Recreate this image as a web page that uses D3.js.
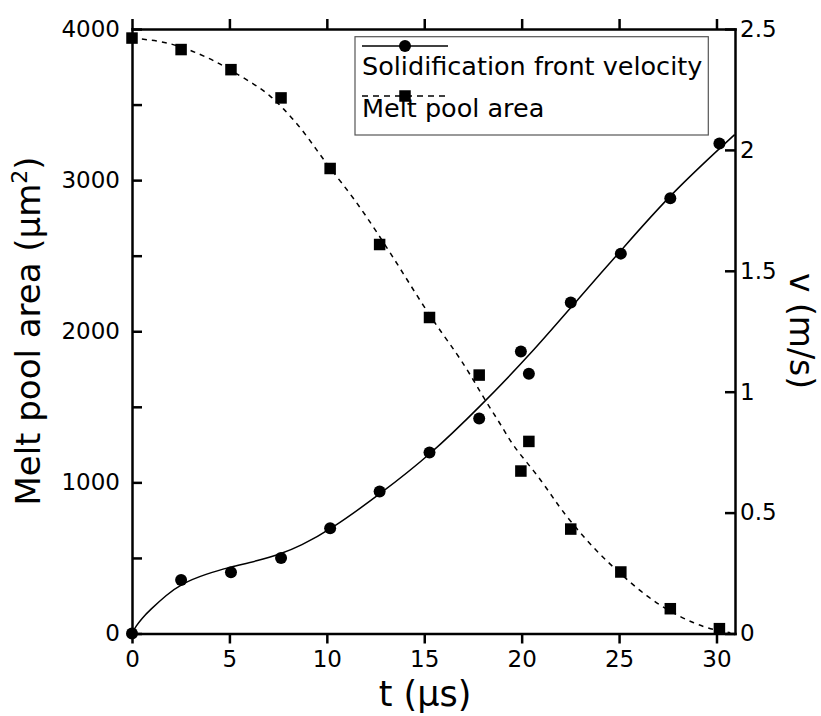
<!DOCTYPE html>
<html>
<head>
<meta charset="utf-8">
<script src="https://cdn.jsdelivr.net/npm/d3@7"></script>
<style>
  html, body { margin: 0; padding: 0; background: #fff; }
  svg { display: block; font-family: "DejaVu Sans", Verdana, sans-serif; }
  .axis path, .axis line { stroke: #000; stroke-width: 2.5; }
  .axis text { font-size: 23px; fill: #000; font-family: "DejaVu Sans", Verdana, sans-serif; }
</style>
</head>
<body>
<div id="chart"></div>
<script>
// measured points (t in µs)
const tempos = [0, 2.52, 5.08, 7.65, 10.17, 12.71, 15.27, 17.82, 19.96, 20.37, 22.52, 25.09, 27.63, 30.15];
const velocidade = [0, 0.221, 0.253, 0.312, 0.435, 0.587, 0.749, 0.889, 1.166, 1.074, 1.369, 1.571, 1.800, 2.026];
const area = [3940, 3864, 3731, 3544, 3077, 2574, 2091, 1710, 1075, 1271, 691, 407, 164, 32];

// fitted curves
const ajusteVelT = [0, 0.2, 0.5, 0.92, 1.78, 2.52, 3.8, 5.08, 6.4, 7.65, 8.63, 10.17, 12.74, 15.31, 17.87, 20.44, 23.01, 25.06, 27.60, 30.93];
const ajusteVel = [0, 0.03, 0.062, 0.097, 0.160, 0.205, 0.247, 0.275, 0.300, 0.329, 0.362, 0.428, 0.577, 0.739, 0.939, 1.153, 1.394, 1.580, 1.815, 2.063];
const ajusteAreaT = [0, 1.44, 2.47, 3.49, 4.35, 5.21, 6.23, 7.09, 7.77, 8.63, 9.49, 10.17, 11.37, 12.57, 13.93, 15.30, 16.68, 17.53, 18.22, 18.90, 19.58, 20.61, 21.47, 21.98, 23.01, 24.04, 25.23, 26.44, 27.63, 28.83, 29.86, 30.71];
const ajusteArea = [3940, 3921, 3886, 3833, 3782, 3716, 3639, 3561, 3474, 3352, 3198, 3077, 2884, 2657, 2382, 2095, 1853, 1677, 1522, 1390, 1235, 1081, 927, 828, 663, 519, 376, 243, 144, 67, 23, 5];

const ticksX = [0, 5, 10, 15, 20, 25, 30];
const ticksArea = d3.range(0, 4001, 500);
const ticksVel = [0, 0.5, 1, 1.5, 2, 2.5];

const largura = 821, altura = 716;
const esq = 132, dir = 735, topo = 29, base = 633.5;

const svg = d3.select('#chart')
    .append('svg')
    .attr('width', largura)
    .attr('height', altura);

const x = d3.scaleLinear().domain([0, 30.95]).range([esq, dir]);
const yA = d3.scaleLinear().domain([0, 4000]).range([base, topo]);
const yV = d3.scaleLinear().domain([0, 2.5]).range([base, topo]);

// eixos
svg.append('g').attr('class', 'axis')
    .attr('transform', `translate(0,${base})`)
    .call(d3.axisBottom(x).tickValues(ticksX).tickSize(10).tickSizeOuter(0).tickPadding(7));
svg.append('g').attr('class', 'axis')
    .attr('transform', `translate(0,${topo})`)
    .call(d3.axisTop(x).tickValues(ticksX).tickSize(10).tickSizeOuter(0).tickFormat(''));
svg.append('g').attr('class', 'axis')
    .attr('transform', `translate(${esq},0)`)
    .call(d3.axisLeft(yA).tickValues(ticksArea).tickSizeInner(-10).tickSizeOuter(0).tickPadding(12)
        .tickFormat(d => d % 1000 === 0 ? d : ''));
svg.append('g').attr('class', 'axis')
    .attr('transform', `translate(${dir},0)`)
    .call(d3.axisRight(yV).tickValues(ticksVel).tickSizeInner(-10).tickSizeOuter(0).tickPadding(5)
        .tickFormat(d => String(d)));
svg.selectAll('.axis .domain').attr('stroke-linecap', 'square');

// curvas ajustadas
const linhaV = d3.line().x(d => x(d[0])).y(d => yV(d[1])).curve(d3.curveBasis);
const linhaA = d3.line().x(d => x(d[0])).y(d => yA(d[1])).curve(d3.curveBasis);

svg.append('path')
    .datum(ajusteVelT.map((t, i) => [t, ajusteVel[i]]))
    .attr('d', linhaV)
    .attr('fill', 'none').attr('stroke', '#000').attr('stroke-width', 1.5);
svg.append('path')
    .datum(ajusteAreaT.map((t, i) => [t, ajusteArea[i]]))
    .attr('d', linhaA)
    .attr('fill', 'none').attr('stroke', '#000').attr('stroke-width', 1.5)
    .attr('stroke-dasharray', '5,5');

// pontos
svg.append('g').selectAll('circle')
    .data(tempos.map((t, i) => [t, velocidade[i]]))
    .enter().append('circle')
    .attr('cx', d => x(d[0])).attr('cy', d => yV(d[1])).attr('r', 6).attr('fill', '#000');
const lado = 11.5;
svg.append('g').selectAll('rect')
    .data(tempos.map((t, i) => [t, area[i]]))
    .enter().append('rect')
    .attr('x', d => x(d[0]) - lado / 2).attr('y', d => yA(d[1]) - lado / 2)
    .attr('width', lado).attr('height', lado).attr('fill', '#000');

// legenda
const leg = svg.append('g');
leg.append('rect').attr('x', 355).attr('y', 36.7).attr('width', 353.3).attr('height', 98.3)
    .attr('fill', '#fff').attr('stroke', '#555').attr('stroke-width', 1.2);
leg.append('line').attr('x1', 362).attr('x2', 448).attr('y1', 46).attr('y2', 46)
    .attr('stroke', '#000').attr('stroke-width', 1.5);
leg.append('circle').attr('cx', 405).attr('cy', 46).attr('r', 6).attr('fill', '#000');
leg.append('text').attr('x', 362).attr('y', 75).attr('font-size', 25.5).text('Solidification front velocity');
leg.append('line').attr('x1', 362).attr('x2', 448).attr('y1', 96).attr('y2', 96)
    .attr('stroke', '#000').attr('stroke-width', 1.5).attr('stroke-dasharray', '6,5');
leg.append('rect').attr('x', 405 - lado / 2).attr('y', 96 - lado / 2).attr('width', lado).attr('height', lado).attr('fill', '#000');
leg.append('text').attr('x', 362).attr('y', 117).attr('font-size', 25.5).text('Melt pool area');

// títulos
const tituloY = svg.append('text')
    .attr('transform', 'translate(40,331) rotate(-90)')
    .attr('text-anchor', 'middle').attr('font-size', 34);
tituloY.append('tspan').text('Melt pool area (μm');
tituloY.append('tspan').attr('font-size', 22).attr('dy', -13).text('2');
tituloY.append('tspan').attr('dy', 13).text(')');

svg.append('text')
    .attr('x', 425).attr('y', 706)
    .attr('text-anchor', 'middle').attr('font-size', 35)
    .text('t (μs)');

svg.append('text')
    .attr('transform', 'translate(790,331) rotate(90)')
    .attr('text-anchor', 'middle').attr('font-size', 33)
    .text('v (m/s)');
</script>
</body>
</html>
